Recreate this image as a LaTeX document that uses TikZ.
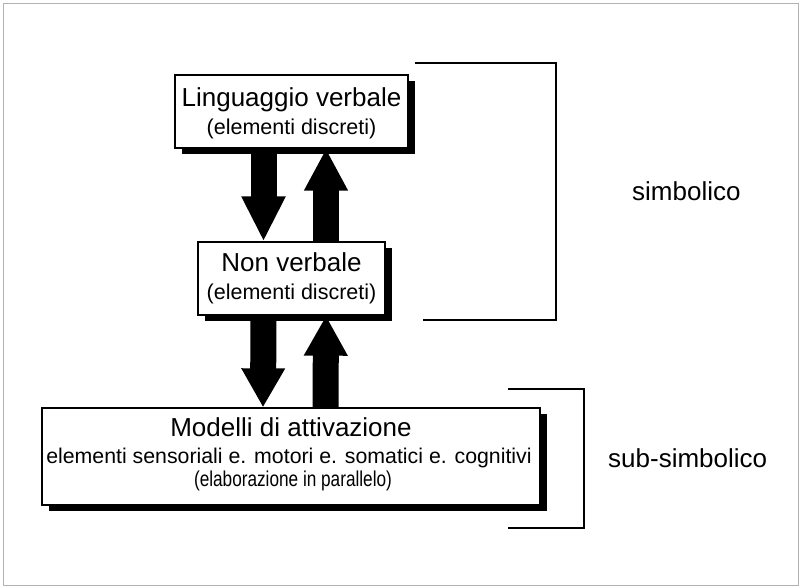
\documentclass[tikz,border=0pt]{standalone}
\usepackage{fontspec}
\setmainfont{Liberation Sans}
\usetikzlibrary{arrows.meta,shadows}

\begin{document}
\begin{tikzpicture}[x=1pt,y=-1pt,
  frame/.style={draw=black!30, line width=0.9pt},
  box/.style={draw=black, line width=1.3pt, fill=white, inner sep=0pt,
    drop shadow={shadow xshift=7pt, shadow yshift=-6pt, fill=black, opacity=1}},
  title/.style={anchor=base, inner sep=0pt, font=\fontsize{26}{26}\selectfont},
  sub/.style={anchor=base, inner sep=0pt, font=\fontsize{21.5}{21.5}\selectfont},
  side/.style={anchor=base west, inner sep=0pt, font=\fontsize{26}{26}\selectfont},
  bigarrow/.style={line width=26pt, -{Triangle[width=41pt,length=#1]}},
  bracket/.style={draw=black, line width=1.8pt}
]
\useasboundingbox (0,0) rectangle (799,587);
\draw[frame] (3,3) rectangle (798.5,585.5);

% the three levels
\node[box, minimum width=233pt, minimum height=73pt] (lv) at (291.5,111.5) {};
\node[box, minimum width=187pt, minimum height=73pt] (nv) at (291.5,278.5) {};
\node[box, minimum width=498pt, minimum height=97pt] (ma) at (291,456.5) {};

\node[title] (lvt) at (291.5,106) {Linguaggio verbale};
\node[sub]   (lvs) at (291.5,134) {(elementi discreti)};
\node[title] (nvt) at (291.5,271) {Non verbale};
\node[sub]   (nvs) at (291.5,299) {(elementi discreti)};
\node[title] (mat) at (291,436) {Modelli di attivazione};
\node[sub, font=\fontsize{21.3}{21.3}\selectfont] (mas) at (289,463) {elementi sensoriali e. motori e. somatici e. cognitivi};
\node[sub]   (map) at (293,486) {\scalebox{0.8}[1]{(elaborazione in parallelo)}};

% block arrows between the levels
\draw[bigarrow=45pt] ([xshift=-28pt]lv.south) -- ([xshift=-28pt]nv.north);
\draw[bigarrow=42pt] ([xshift=34.5pt]nv.north) -- ([xshift=34.5pt]lv.south);
\draw[bigarrow=39pt] ([xshift=-28pt]nv.south) -- ([xshift=-28pt]ma.north);
\draw[bigarrow=40pt] ([xshift=34.5pt]ma.north) -- ([xshift=34.5pt]nv.south);

% brackets and their labels
\draw[bracket] (415,63) -| (556,320) -- (423,320);
\draw[bracket] (508,389) -| (584,528) -- (508,528);
\node[side] (sim) at (632,200) {simbolico};
\node[side] (sub) at (608,467) {sub-simbolico};
\end{tikzpicture}
\end{document}
